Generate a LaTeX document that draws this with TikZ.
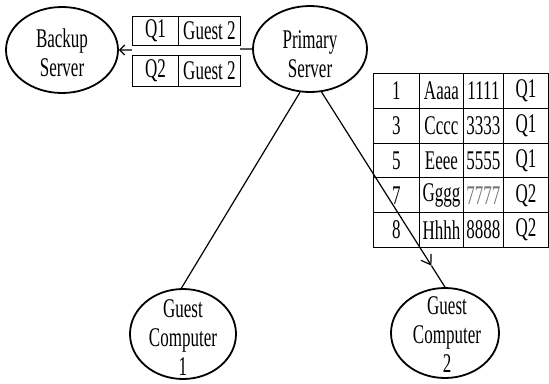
\documentclass[tikz,border=0pt]{standalone}
\usepackage{fontspec}
\setmainfont[FakeStretch=0.63]{Liberation Serif}
\usetikzlibrary{shapes.geometric,arrows.meta,calc}
\begin{document}
\begin{tikzpicture}[x=1pt,y=-1pt,
  font=\fontsize{27}{29}\selectfont,
  srv/.style={ellipse, draw, line width=1.8pt, inner sep=0pt},
  txt/.style={align=center, inner sep=0pt},
  conn/.style={line width=1.2pt},
  cell/.style={draw, line width=0.9pt, inner sep=0pt, anchor=north west, fill=white}]
\useasboundingbox (0,0) rectangle (549,383);

% servers and guests
\node[srv, minimum width=112pt, minimum height=86pt] (B) at (62,50) {};
\node[srv, minimum width=114pt, minimum height=86pt] (P) at (310,49) {};
\node[srv, minimum width=106pt, minimum height=90pt] (G1) at (183,334) {};
\node[srv, minimum width=108pt, minimum height=90pt] (G2) at (445,333) {};
\node[txt] (Bt) at (62,53) {Backup\\Server};
\node[txt] (Pt) at (310,54) {Primary\\Server};
\node[txt] (G1t) at (183,338) {Guest\\Computer\\1};
\node[txt] (G2t) at (447,335) {Guest\\Computer\\2};

% replication arrow to backup
\draw[conn, -{Straight Barb[length=5pt,width=10pt]}] (P.west) -- (B.east);
\fill[white] (132,45) rectangle (240,55);
\node[cell, minimum width=46pt, minimum height=29pt] (q1) at (132,16) {Q1};
\node[cell, minimum width=62pt, minimum height=29pt] (g1) at (178,16) {Guest 2};
\node[cell, minimum width=46pt, minimum height=31pt] (q2) at (132,55) {Q2};
\node[cell, minimum width=62pt, minimum height=31pt] (g2) at (178,55) {Guest 2};

% big table
\foreach \n/\s/\v/\q [count=\i] in {1/Aaaa/1111/Q1, 3/Cccc/3333/Q1, 5/Eeee/5555/Q1, 7/Gggg/7777/Q2, 8/Hhhh/8888/Q2} {
  \pgfmathsetmacro{\yy}{73+(\i-1)*34.8}
  \node[cell, minimum width=46pt, minimum height=34.8pt] (ta\i) at (373,\yy) {\n};
  \node[cell, minimum width=44pt, minimum height=34.8pt] (tb\i) at (419,\yy) {\s};
  \ifnum\i=4
    \node[cell, minimum width=40pt, minimum height=34.8pt, text=black!55] (tc\i) at (463,\yy) {\v};
  \else
    \node[cell, minimum width=40pt, minimum height=34.8pt] (tc\i) at (463,\yy) {\v};
  \fi
  \node[cell, minimum width=45pt, minimum height=34.8pt] (td\i) at (503,\yy) {\q};
}

% connectors to guests
\draw[conn] (P.257) -- (G1.92);
\coordinate (A2) at ($(P.285)!0.89!(G2.90)$);
\draw[conn, -{Straight Barb[length=9pt,width=12pt]}] (P.285) -- (A2);
\draw[conn] (A2) -- (G2.90);
\end{tikzpicture}
\end{document}
